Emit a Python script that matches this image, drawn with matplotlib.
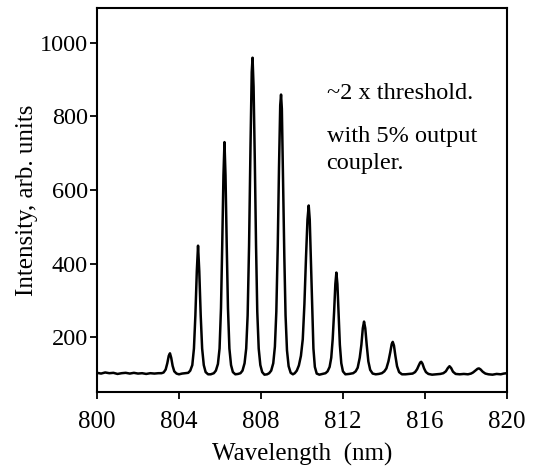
import numpy as np
import matplotlib.pyplot as plt

# spectrum: wavelength (nm) and intensity (arb. units)
wavelength = [
    800.0, 800.2, 800.4, 800.6, 800.8, 801.0, 801.2, 801.4, 801.6, 801.8,
    802.0, 802.2, 802.4, 802.6, 802.8, 803.0, 803.15,
    803.25, 803.35, 803.43, 803.5, 803.56, 803.62, 803.69, 803.77, 803.88, 804.0,
    804.15, 804.3,
    804.45, 804.55, 804.65, 804.73, 804.8, 804.87, 804.93, 804.99, 805.06, 805.13,
    805.21, 805.3, 805.42, 805.55,
    805.7, 805.8, 805.9, 805.98, 806.05, 806.11, 806.17, 806.22, 806.27, 806.33,
    806.39, 806.46, 806.54, 806.63, 806.75, 806.88,
    807.0, 807.1, 807.2, 807.28, 807.35, 807.42, 807.49, 807.55, 807.59, 807.64,
    807.7, 807.76, 807.82, 807.89, 807.97, 808.06, 808.17, 808.3,
    808.4, 808.5, 808.6, 808.68, 808.75, 808.82, 808.88, 808.94, 808.98, 809.02,
    809.08, 809.14, 809.2, 809.27, 809.35, 809.45, 809.56,
    809.65, 809.75, 809.85, 809.95, 810.04, 810.12, 810.2, 810.27, 810.33, 810.38,
    810.44, 810.5, 810.56, 810.63, 810.72, 810.85, 811.0,
    811.15, 811.25, 811.35, 811.43, 811.5, 811.57, 811.63, 811.68, 811.73, 811.79,
    811.85, 811.92, 812.0, 812.12, 812.3,
    812.5, 812.62, 812.72, 812.82, 812.9, 812.97, 813.03, 813.09, 813.16, 813.24,
    813.33, 813.45, 813.6, 813.75,
    813.9, 814.02, 814.12, 814.22, 814.31, 814.38, 814.43, 814.49, 814.56, 814.64,
    814.74, 814.88, 815.05, 815.25,
    815.4, 815.52, 815.62, 815.7, 815.77, 815.82, 815.88, 815.96, 816.05, 816.17,
    816.35, 816.55, 816.75,
    816.9, 817.02, 817.12, 817.2, 817.28, 817.37, 817.5, 817.7, 817.9, 818.1,
    818.25,
    818.35, 818.48, 818.57, 818.64, 818.72, 818.82, 818.95, 819.1, 819.3, 819.5,
    819.7, 819.85, 820.0,
]
intensity = [
    104, 102, 105, 103, 104, 101, 103, 104, 102, 104,
    102, 103, 101, 103, 102, 103, 103,
    105, 113, 130, 150, 157, 145, 123, 108, 102, 100,
    102, 103,
    104, 110, 125, 170, 260, 380, 449, 380, 260, 170,
    125, 106, 100, 100,
    103, 110, 128, 170, 280, 450, 640, 730, 640, 450,
    280, 170, 125, 106, 100, 101,
    103, 110, 130, 170, 260, 450, 720, 920, 959, 880,
    680, 450, 270, 170, 125, 106, 99, 100,
    103, 110, 130, 175, 270, 450, 660, 830, 859, 820,
    620, 420, 260, 165, 122, 104, 100,
    103, 110, 124, 150, 195, 290, 420, 520, 558, 520,
    400, 270, 170, 120, 102, 99, 101,
    103, 108, 120, 145, 195, 270, 345, 376, 345, 260,
    180, 130, 108, 100, 101,
    103, 108, 118, 145, 180, 225, 243, 225, 180, 135,
    112, 102, 100, 101,
    103, 108, 116, 135, 160, 182, 188, 178, 150, 122,
    106, 100, 100, 101,
    102, 106, 114, 124, 132, 134, 129, 116, 106, 101,
    99, 100, 101,
    103, 108, 117, 122, 117, 107, 101, 100, 101, 100,
    102,
    105, 111, 115, 116, 113, 107, 102, 100, 99, 101,
    100, 102, 103,
]

x_ticks = [800, 804, 808, 812, 816, 820]
y_ticks = [200, 400, 600, 800, 1000]
notes = ["~2 x threshold.", "with 5% output", "coupler."]

plt.rcParams['font.family'] = ['Liberation Serif', 'DejaVu Serif']

fig = plt.figure(figsize=(5.33, 4.68), dpi=100)
ax = fig.add_axes([0.182, 0.1624, 0.769, 0.8206])

ax.plot(wavelength, intensity, color='black', linewidth=1.8)

ax.set_xlim(800, 820)
ax.set_ylim(52, 1094)
ax.set_xticks(x_ticks)
ax.set_yticks(y_ticks)
ax.tick_params(axis='x', direction='out', length=5, width=1.3, labelsize=18, pad=9)
ax.tick_params(axis='y', direction='out', length=5, width=1.3, labelsize=17.5, pad=1.5)
for sp in ax.spines.values():
    sp.set_linewidth(1.5)

ax.set_xlabel("Wavelength  (nm)", fontsize=18, labelpad=7)
ax.set_ylabel("Intensity, arb. units", fontsize=18, labelpad=1)

ax.text(811.2, 846, notes[0], fontsize=17.5)
ax.text(811.2, 730, notes[1], fontsize=17.5)
ax.text(811.2, 657, notes[2], fontsize=17.5)

fig.savefig("out.png", dpi=100)
